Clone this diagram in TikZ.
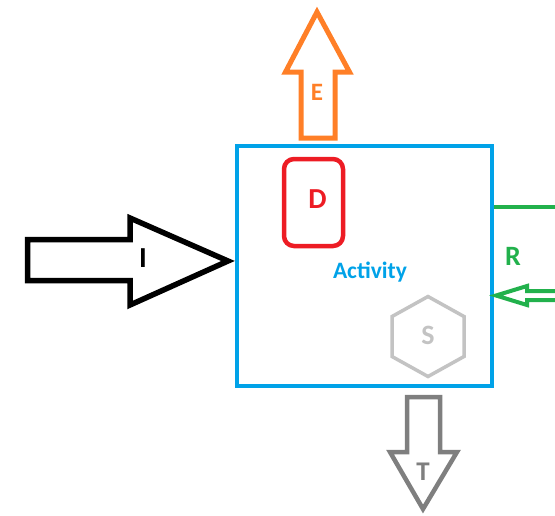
\documentclass[tikz,border=0pt]{standalone}
\usepackage{fontspec}
\setmainfont{Carlito}
\definecolor{pblue}{RGB}{0,162,232}
\definecolor{porange}{RGB}{255,127,39}
\definecolor{pred}{RGB}{237,28,36}
\definecolor{pgreen}{RGB}{34,177,76}
\definecolor{plgray}{RGB}{195,195,195}
\definecolor{pdgray}{RGB}{127,127,127}
\tikzset{
  lbl/.style={font=\bfseries\fontsize{#1}{#1}\selectfont, inner sep=0pt},
  blockarrow/.style={line width=5pt, line join=miter},
}
\begin{document}
\begin{tikzpicture}[x=1pt,y=-1pt]
\useasboundingbox (0,0) rectangle (555,515);
\clip (0,0) rectangle (555,515);
% Activity box
\node[draw=pblue, line width=4.5pt, minimum width=255pt, minimum height=240pt, inner sep=0pt] (box) at (364.5,266) {};
\node[lbl=23.5, text=pblue] (activity) at (370,272) {Activity};
% D
\node[draw=pred, line width=4.5pt, rounded corners=10pt, minimum width=59pt, minimum height=87pt, inner sep=0pt] (dbox) at (313.5,202.5) {};
\node[lbl=29, text=pred] (d) at (317.5,199) {D};
% E arrow
\draw[blockarrow, draw=porange] (301,138) -- (301,72) -- (285.5,72) -- (317,12) -- (349.5,72) -- (335,72) -- (335,138) -- cycle;
\node[lbl=25, text=porange] (e) at (317,92) {E};
% I arrow
\draw[blockarrow, line width=5.5pt, draw=black] (27.5,239.5) -- (130,239.5) -- (130,218) -- (228,261) -- (130,305) -- (130,280.5) -- (27.5,280.5) -- cycle;
\node[lbl=29, text=black] (i) at (143,258) {I};
% T arrow
\draw[blockarrow, line width=4.5pt, draw=pdgray] (407,397) -- (440,397) -- (440,452) -- (457,452) -- (423,509) -- (390,452) -- (407,452) -- cycle;
\node[lbl=27, text=pdgray] (t) at (423,472) {T};
% S hexagon
\draw[line width=3.5pt, draw=plgray, line join=miter] (428,296.5) -- (464,316.5) -- (464,356.5) -- (428,376.5) -- (392,356.5) -- (392,316.5) -- cycle;
\node[lbl=28, text=plgray] (s) at (428,335) {S};
% R loop
\draw[line width=4.5pt, draw=pgreen] (box.east |- 0,207) -- (560,207);
\draw[line width=4pt, draw=pgreen, line join=miter] (560,291) -- (527,291) -- (527,286) -- (496,295.5) -- (527,305) -- (527,300) -- (560,300);
\node[lbl=28, text=pgreen] (r) at (513,256) {R};
\end{tikzpicture}
\end{document}
